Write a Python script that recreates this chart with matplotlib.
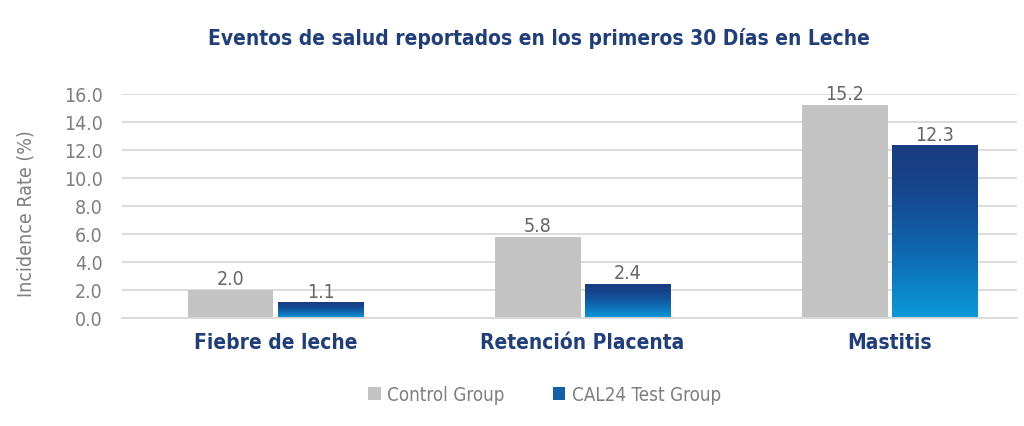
import numpy as np
import matplotlib
matplotlib.use("Agg")
import matplotlib.pyplot as plt
from matplotlib.colors import LinearSegmentedColormap
from matplotlib.patches import Patch

categories = ["Fiebre de leche", "Retención Placenta", "Mastitis"]
control = [2.0, 5.8, 15.2]
cal24 = [1.1, 2.4, 12.3]
series_names = ["Control Group", "CAL24 Test Group"]
yticks = [0, 2, 4, 6, 8, 10, 12, 14, 16]

plt.rcParams['font.family'] = ['DejaVu Sans']
plt.rcParams['font.stretch'] = 'condensed'

GRAY = "#c3c3c3"
NAVY = "#213e7c"
TXT = "#7f7f7f"
blue_cmap = LinearSegmentedColormap.from_list(
    "bluegrad", [(0.0, "#0a99da"), (0.4, "#0f66ae"), (0.75, "#16458d"), (1.0, "#1a3b80")])

fig = plt.figure(figsize=(10.24, 4.27), dpi=100)
ax = fig.add_axes([122 / 1024, 108 / 427, 895 / 1024, 224 / 427])

x = np.arange(len(categories))
w = 0.28
off = 0.1466

ax.bar(x - off, control, width=w, color=GRAY, zorder=2)
bars = ax.bar(x + off, cal24, width=w, color="none", zorder=2)

# gradient fill for the CAL24 bars
grad = np.linspace(0, 1, 256).reshape(-1, 1)
for b in bars:
    x0, y0 = b.get_x(), b.get_y()
    ax.imshow(grad, cmap=blue_cmap, origin="lower", aspect="auto",
              extent=[x0, x0 + b.get_width(), y0, y0 + b.get_height()], zorder=2)

for xi, v in zip(x - off, control):
    ax.annotate(f"{v:.1f}", (xi, v), xytext=(0, 1.5), textcoords="offset points",
                ha="center", va="bottom", fontsize=14, color="#666666")
for xi, v in zip(x + off, cal24):
    ax.annotate(f"{v:.1f}", (xi, v), xytext=(0, 1.5), textcoords="offset points",
                ha="center", va="bottom", fontsize=14, color="#666666")

ax.set_xlim(-0.5, 2.415)
ax.set_ylim(0, 16)
ax.set_yticks(yticks)
ax.set_yticklabels([f"{t:.1f}" for t in yticks])
ax.set_xticks(x)
ax.set_xticklabels(categories)
ax.yaxis.grid(True, color="#d9d9d9", linewidth=1.3, zorder=0)
ax.set_axisbelow(True)
for s in ["top", "right", "left"]:
    ax.spines[s].set_visible(False)
ax.spines["bottom"].set_color("#d9d9d9")
ax.spines["bottom"].set_linewidth(1.3)
ax.tick_params(axis="y", length=0, pad=14, labelsize=14, labelcolor=TXT)
ax.tick_params(axis="x", length=0, pad=10, labelsize=15, labelcolor=NAVY)
for lbl in ax.get_xticklabels():
    lbl.set_fontweight("bold")
ax.set_ylabel("Incidence Rate (%)", fontsize=14, color=TXT)
ax.yaxis.set_label_coords(-0.097, 0.469)

fig.text(0.526, 0.911, "Eventos de salud reportados en los primeros 30 Días en Leche",
         ha="center", va="center", fontsize=15, fontweight="bold", color=NAVY)

handles = [Patch(facecolor=GRAY), Patch(facecolor="#1160a8")]
fig.legend(handles, series_names, loc="center", bbox_to_anchor=(0.532, 0.073),
           ncol=2, frameon=False, fontsize=13.5, labelcolor=TXT,
           handlelength=0.65, handleheight=0.65, handletextpad=0.35, columnspacing=2.6)

fig.savefig("out.png", dpi=100)
